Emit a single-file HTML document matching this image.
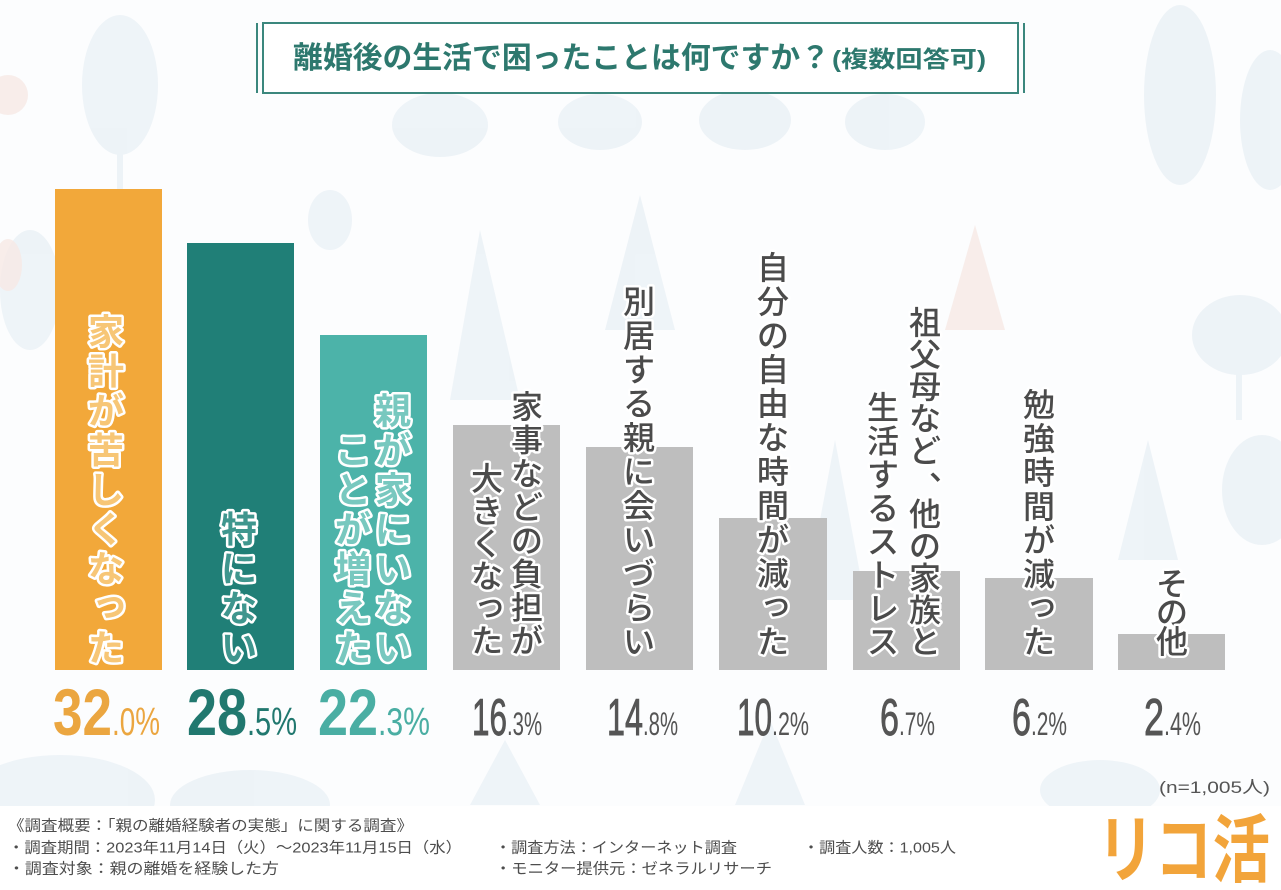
<!DOCTYPE html>
<html>
<head>
<meta charset="utf-8">
<style>
  html,body{margin:0;padding:0;background:#fff;}
  svg{display:block;}
  .jp{font-family:"Liberation Sans","Noto Sans CJK JP",sans-serif;}
  .num{font-family:"Liberation Sans",sans-serif;}
</style>
</head>
<body>
<svg width="1281" height="890" viewBox="0 0 1281 890" xmlns="http://www.w3.org/2000/svg">
  <!-- background -->
  <rect x="0" y="0" width="1281" height="890" fill="#fcfdfe"/>
  <g fill="#e9f0f5" opacity="0.75">
    <ellipse cx="120" cy="85" rx="38" ry="70"/>
    <rect x="117" y="140" width="6" height="50"/>
    <ellipse cx="440" cy="125" rx="48" ry="32"/>
    <ellipse cx="600" cy="122" rx="42" ry="28"/>
    <ellipse cx="745" cy="120" rx="46" ry="30"/>
    <ellipse cx="885" cy="122" rx="40" ry="28"/>
    <ellipse cx="1180" cy="95" rx="36" ry="90"/>
    <ellipse cx="1270" cy="120" rx="30" ry="70"/>
    <polygon points="640,195 605,330 675,330"/>
    <polygon points="480,230 450,400 520,400"/>
    <ellipse cx="1240" cy="335" rx="48" ry="40"/>
    <rect x="1236" y="360" width="6" height="60"/>
    <ellipse cx="1262" cy="490" rx="40" ry="55"/>
    <polygon points="835,440 805,600 865,600"/>
    <polygon points="1148,440 1118,560 1178,560"/>
    <ellipse cx="60" cy="800" rx="95" ry="45"/>
    <ellipse cx="250" cy="805" rx="80" ry="35"/>
    <polygon points="505,740 470,805 540,805"/>
    <polygon points="770,720 735,805 805,805"/>
    <ellipse cx="1100" cy="790" rx="60" ry="30"/>
    <ellipse cx="30" cy="290" rx="30" ry="60"/>
    <ellipse cx="330" cy="220" rx="22" ry="30"/>
  </g>
  <g fill="#f6e8e5" opacity="0.8">
    <circle cx="8" cy="95" r="20"/>
    <polygon points="975,225 945,330 1005,330"/>
    <ellipse cx="8" cy="265" rx="14" ry="26"/>
  </g>
  <rect x="0" y="806" width="1281" height="84" fill="#ffffff"/>

  <!-- title box -->
  <rect x="263" y="23" width="755" height="70" fill="#ffffff" fill-opacity="0.92" stroke="#3b877d" stroke-width="2"/>
  <line x1="257" y1="23" x2="257" y2="93" stroke="#3b877d" stroke-width="2"/>
  <line x1="1024" y1="23" x2="1024" y2="93" stroke="#3b877d" stroke-width="2"/>
  <text class="jp" x="293" y="68" font-size="30" font-weight="700" fill="#2d786e" textLength="537" lengthAdjust="spacingAndGlyphs">離婚後の生活で困ったことは何ですか？</text>
  <text class="jp" x="832" y="67" font-size="23" font-weight="700" fill="#2d786e" textLength="154" lengthAdjust="spacingAndGlyphs">(複数回答可)</text>

  <!-- bars -->
  <rect x="55" y="189" width="107" height="481" fill="#f2a83a"/>
  <rect x="187" y="243" width="107" height="427" fill="#207f77"/>
  <rect x="320" y="335" width="107" height="335" fill="#4cb3a9"/>
  <rect x="453" y="425" width="107" height="245" fill="#bebebe"/>
  <rect x="586" y="447" width="107" height="223" fill="#bebebe"/>
  <rect x="719" y="518" width="108" height="152" fill="#bebebe"/>
  <rect x="853" y="571" width="107" height="99" fill="#bebebe"/>
  <rect x="985" y="578" width="108" height="92" fill="#bebebe"/>
  <rect x="1118" y="634" width="107" height="36" fill="#bebebe"/>

  <!-- colored bar labels -->
  <g class="jp" font-size="36" font-weight="700" text-anchor="middle" stroke="#ffffff" stroke-width="5" stroke-linejoin="round" paint-order="stroke">
    <text fill="#f7c676">
      <tspan x="106" y="344.7">家</tspan><tspan x="106" y="384.2">計</tspan><tspan x="106" y="423.7">が</tspan><tspan x="106" y="463.2">苦</tspan><tspan x="106" y="502.7">し</tspan><tspan x="106" y="542.2">く</tspan><tspan x="106" y="581.7">な</tspan><tspan x="110" y="616">っ</tspan><tspan x="106" y="660.7">た</tspan>
    </text>
    <text fill="#3f968e">
      <tspan x="239" y="542.2">特</tspan><tspan x="239" y="581.7">に</tspan><tspan x="239" y="621.2">な</tspan><tspan x="239" y="660.7">い</tspan>
    </text>
    <text fill="#78c8bf">
      <tspan x="393" y="423.7">親</tspan><tspan x="393" y="463.2">が</tspan><tspan x="393" y="502.7">家</tspan><tspan x="393" y="542.2">に</tspan><tspan x="393" y="581.7">い</tspan><tspan x="393" y="621.2">な</tspan><tspan x="393" y="660.7">い</tspan>
    </text>
    <text fill="#78c8bf">
      <tspan x="353" y="463.2">こ</tspan><tspan x="353" y="502.7">と</tspan><tspan x="353" y="542.2">が</tspan><tspan x="353" y="581.7">増</tspan><tspan x="353" y="621.2">え</tspan><tspan x="353" y="660.7">た</tspan>
    </text>
  </g>

  <!-- gray bar labels -->
  <g class="jp" font-size="32" font-weight="500" text-anchor="middle" fill="#4b4b4b" stroke="#ffffff" stroke-width="5" stroke-linejoin="round" paint-order="stroke">
    <text>
      <tspan x="527" y="418.2">家</tspan><tspan x="527" y="451.6">事</tspan><tspan x="527" y="485.1">な</tspan><tspan x="527" y="518.5">ど</tspan><tspan x="527" y="551.9">の</tspan><tspan x="527" y="585.3">負</tspan><tspan x="527" y="618.8">担</tspan><tspan x="527" y="652.2">が</tspan>
    </text>
    <text>
      <tspan x="487" y="490.2">大</tspan><tspan x="487" y="522.6">き</tspan><tspan x="487" y="555">く</tspan><tspan x="487" y="587.4">な</tspan><tspan x="490" y="615.8">っ</tspan><tspan x="487" y="652.2">た</tspan>
    </text>
    <text>
      <tspan x="639" y="313.2">別</tspan><tspan x="639" y="347.2">居</tspan><tspan x="639" y="381.2">す</tspan><tspan x="639" y="415.2">る</tspan><tspan x="639" y="449.2">親</tspan><tspan x="639" y="483.2">に</tspan><tspan x="639" y="517.2">会</tspan><tspan x="639" y="551.2">い</tspan><tspan x="639" y="585.2">づ</tspan><tspan x="639" y="619.2">ら</tspan><tspan x="639" y="653.2">い</tspan>
    </text>
    <text>
      <tspan x="773" y="279.2">自</tspan><tspan x="773" y="313.2">分</tspan><tspan x="773" y="347.2">の</tspan><tspan x="773" y="381.2">自</tspan><tspan x="773" y="415.2">由</tspan><tspan x="773" y="449.2">な</tspan><tspan x="773" y="483.2">時</tspan><tspan x="773" y="517.2">間</tspan><tspan x="773" y="551.2">が</tspan><tspan x="773" y="585.2">減</tspan><tspan x="776" y="615.2">っ</tspan><tspan x="773" y="653.2">た</tspan>
    </text>
    <text>
      <tspan x="925" y="334.2">祖</tspan><tspan x="925" y="366.1">父</tspan><tspan x="925" y="398">母</tspan><tspan x="925" y="429.9">な</tspan><tspan x="925" y="461.8">ど</tspan><tspan x="945" y="479.7">、</tspan><tspan x="925" y="525.6">他</tspan><tspan x="925" y="557.5">の</tspan><tspan x="925" y="589.4">家</tspan><tspan x="925" y="621.3">族</tspan><tspan x="925" y="653.2">と</tspan>
    </text>
    <text>
      <tspan x="883" y="419.2">生</tspan><tspan x="883" y="452.6">活</tspan><tspan x="883" y="486.1">す</tspan><tspan x="883" y="519.5">る</tspan><tspan x="883" y="552.9">ス</tspan><tspan x="883" y="586.3">ト</tspan><tspan x="883" y="619.8">レ</tspan><tspan x="883" y="653.2">ス</tspan>
    </text>
    <text>
      <tspan x="1039" y="416.2">勉</tspan><tspan x="1039" y="450.1">強</tspan><tspan x="1039" y="483.9">時</tspan><tspan x="1039" y="517.8">間</tspan><tspan x="1039" y="551.6">が</tspan><tspan x="1039" y="585.5">減</tspan><tspan x="1042" y="615.3">っ</tspan><tspan x="1039" y="653.2">た</tspan>
    </text>
    <text>
      <tspan x="1172" y="595.2">そ</tspan><tspan x="1172" y="624.2">の</tspan><tspan x="1172" y="653.2">他</tspan>
    </text>
  </g>

  <!-- percentages -->
  <g class="num">
    <text x="53" y="735" font-size="66" font-weight="700" fill="#eba640" textLength="59" lengthAdjust="spacingAndGlyphs">32</text>
    <text x="112" y="735" font-size="39" fill="#eba640" textLength="48" lengthAdjust="spacingAndGlyphs">.0%</text>

    <text x="187" y="735" font-size="66" font-weight="700" fill="#21786f" textLength="60" lengthAdjust="spacingAndGlyphs">28</text>
    <text x="247" y="735" font-size="39" fill="#21786f" textLength="50" lengthAdjust="spacingAndGlyphs">.5%</text>

    <text x="318" y="735" font-size="66" font-weight="700" fill="#4aaea3" textLength="60" lengthAdjust="spacingAndGlyphs">22</text>
    <text x="378" y="735" font-size="39" fill="#4aaea3" textLength="52" lengthAdjust="spacingAndGlyphs">.3%</text>
  </g>
  <g class="num" fill="#555555" stroke="#555555" stroke-width="0.9">
    <text x="472" y="735" font-size="52" textLength="35" lengthAdjust="spacingAndGlyphs">16</text>
    <text x="607" y="735" font-size="52" textLength="36" lengthAdjust="spacingAndGlyphs">14</text>
    <text x="737" y="735" font-size="52" textLength="35" lengthAdjust="spacingAndGlyphs">10</text>
    <text x="880" y="735" font-size="52" textLength="19" lengthAdjust="spacingAndGlyphs">6</text>
    <text x="1012" y="735" font-size="52" textLength="19" lengthAdjust="spacingAndGlyphs">6</text>
    <text x="1144" y="735" font-size="52" textLength="20" lengthAdjust="spacingAndGlyphs">2</text>
  </g>
  <g class="num" fill="#555555">
    <text x="507" y="735" font-size="32" textLength="35" lengthAdjust="spacingAndGlyphs">.3%</text>
    <text x="643" y="735" font-size="32" textLength="35" lengthAdjust="spacingAndGlyphs">.8%</text>
    <text x="772" y="735" font-size="32" textLength="37" lengthAdjust="spacingAndGlyphs">.2%</text>
    <text x="899" y="735" font-size="32" textLength="36" lengthAdjust="spacingAndGlyphs">.7%</text>
    <text x="1031" y="735" font-size="32" textLength="36" lengthAdjust="spacingAndGlyphs">.2%</text>
    <text x="1164" y="735" font-size="32" textLength="37" lengthAdjust="spacingAndGlyphs">.4%</text>
  </g>

  <!-- n -->
  <text class="jp" x="1159" y="793" font-size="17" fill="#555555" textLength="111" lengthAdjust="spacingAndGlyphs">(n=1,005人)</text>

  <!-- footer -->
  <g class="jp" font-size="15" fill="#4d4d4d">
    <text x="8" y="830.5" textLength="405" lengthAdjust="spacingAndGlyphs">《調査概要：「親の離婚経験者の実態」に関する調査》</text>
    <text x="8" y="852.5" textLength="454" lengthAdjust="spacingAndGlyphs">・調査期間：2023年11月14日（火）～2023年11月15日（水）</text>
    <text x="8" y="873.5" textLength="271" lengthAdjust="spacingAndGlyphs">・調査対象：親の離婚を経験した方</text>
    <text x="495" y="852.5" textLength="242" lengthAdjust="spacingAndGlyphs">・調査方法：インターネット調査</text>
    <text x="495" y="873.5" textLength="277" lengthAdjust="spacingAndGlyphs">・モニター提供元：ゼネラルリサーチ</text>
    <text x="803" y="852.5" textLength="153" lengthAdjust="spacingAndGlyphs">・調査人数：1,005人</text>
  </g>

  <!-- logo -->
  <text class="jp" x="1097" y="876" font-size="74" font-weight="700" fill="#f2a43a" textLength="173" lengthAdjust="spacingAndGlyphs">リコ活</text>
</svg>
</body>
</html>
